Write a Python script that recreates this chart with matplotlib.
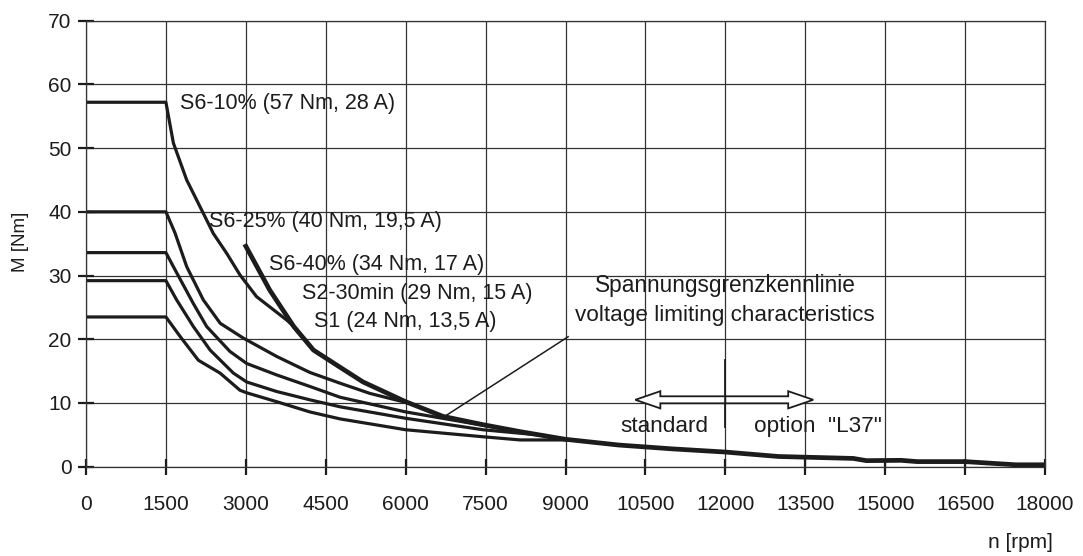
"""
Torque / speed characteristics of a spindle motor
(S1, S2, S6 duty curves and voltage limiting characteristic)
"""

import matplotlib
matplotlib.use("Agg")
import matplotlib.pyplot as plt
from matplotlib.patches import FancyArrow


# ----------------------------------------------------------
# Data (rpm, Nm)
# ----------------------------------------------------------

s6_10_rpm = [0, 1500, 1640, 1890, 2200, 2390, 2640, 2890, 3200, 3770, 3900]
s6_10_nm = [57.2, 57.2, 50.8, 45.0, 39.8, 36.6, 33.5, 30.1, 26.7, 23.0, 22.0]

s6_25_rpm = [0, 1500, 1670, 1890, 2200, 2520, 2950, 3580, 4200, 4770, 5330, 6000]
s6_25_nm = [40.0, 40.0, 36.7, 31.4, 26.2, 22.5, 20.2, 17.3, 14.8, 13.1, 11.5, 10.1]

s6_40_rpm = [0, 1500, 1640, 2015, 2265, 2700, 3015, 3580, 4200, 4770, 6000, 7450, 8150]
s6_40_nm = [33.6, 33.6, 31.4, 25.6, 22.0, 18.1, 16.2, 14.4, 12.6, 10.9, 8.6, 6.5, 5.5]

s2_rpm = [0, 1500, 1700, 2015, 2330, 2765, 3015, 3580, 4200, 4770, 6000, 7450, 8600]
s2_nm = [29.2, 29.2, 26.2, 22.0, 18.3, 14.7, 13.3, 11.8, 10.5, 9.4, 7.6, 5.8, 4.9]

s1_rpm = [0, 1500, 1770, 2110, 2515, 2890, 3015, 3580, 4200, 4770, 6000, 7450, 8150, 9000]
s1_nm = [23.5, 23.5, 20.4, 16.7, 14.7, 12.0, 11.6, 10.2, 8.6, 7.5, 5.8, 4.7, 4.2, 4.2]

volt_rpm = [3000, 3450, 3900, 4270, 4770, 5200, 6000, 6700, 7450, 8150, 9000,
            10000, 11000, 12000, 13000, 14400, 14650, 15300, 15600, 16500,
            17450, 18000]
volt_nm = [34.6, 27.7, 22.0, 18.3, 15.6, 13.3, 10.2, 7.9, 6.6, 5.5, 4.3,
           3.4, 2.8, 2.3, 1.6, 1.3, 0.95, 1.0, 0.8, 0.8, 0.3, 0.3]

x_ticks = list(range(0, 18001, 1500))
y_ticks = list(range(0, 71, 10))

labels = ["S6-10% (57 Nm, 28 A)", "S6-25% (40 Nm, 19,5 A)",
          "S6-40% (34 Nm, 17 A)", "S2-30min (29 Nm, 15 A)",
          "S1 (24 Nm, 13,5 A)"]
label_pos = [(1760, 57.0), (2300, 38.5), (3430, 31.7), (4060, 27.2), (4280, 22.8)]


# ----------------------------------------------------------
# Plotting
# ----------------------------------------------------------

plt.rcParams["font.family"] = ["Liberation Sans", "DejaVu Sans"]
ink = "#1c1c1c"

fig = plt.figure(figsize=(10.83, 5.56), dpi=100)
ax = fig.add_axes([86 / 1083, 1 - 466.7 / 556, 959 / 1083, 446 / 556])

ax.set_xlim(0, 18000)
ax.set_ylim(0, 70)
ax.set_xticks(x_ticks)
ax.set_yticks(y_ticks)
ax.grid(True, color="#333333", lw=0.9)
ax.set_axisbelow(True)
for sp in ax.spines.values():
    sp.set_color("#333333")
    sp.set_linewidth(0.9)

ax.tick_params(axis="both", direction="inout", length=11, width=1.6,
               color=ink, labelsize=15, labelcolor=ink)
ax.tick_params(axis="x", pad=15)
ax.tick_params(axis="y", pad=5)

for rpm, nm in [(s6_10_rpm, s6_10_nm), (s6_25_rpm, s6_25_nm),
                (s6_40_rpm, s6_40_nm), (s2_rpm, s2_nm), (s1_rpm, s1_nm)]:
    ax.plot(rpm, nm, color=ink, lw=2.3)
ax.plot(volt_rpm, volt_nm, color=ink, lw=3.4)

for txt, (x, y) in zip(labels, label_pos):
    ax.text(x, y, txt, fontsize=15.5, color=ink, ha="left", va="center")

# voltage limiting characteristic label with leader line
ax.text(12000, 28.5, "Spannungsgrenzkennlinie", fontsize=16.3, color=ink,
        ha="center", va="center")
ax.text(12000, 23.8, "voltage limiting characteristics", fontsize=16.2,
        color=ink, ha="center", va="center")
ax.plot([9050, 6770], [20.4, 8.1], color=ink, lw=1.1)

# standard / option "L37" split
ax.plot([12000, 12000], [6.3, 16.8], color=ink, lw=1.3)
for dx in (-1690, 1650):
    ax.add_patch(FancyArrow(12000, 10.5, dx, 0, width=1.1, head_width=2.7,
                            head_length=470, length_includes_head=True,
                            facecolor="white", edgecolor=ink, lw=1.3, zorder=4))
ax.text(10860, 6.3, "standard", fontsize=16.2, color=ink, ha="center", va="center")
ax.text(12530, 6.3, 'option  "L37"', fontsize=16.2, color=ink, ha="left", va="center")

ax.set_ylabel("M [Nm]", fontsize=13.5, color=ink)
ax.yaxis.set_label_coords(-0.068, 0.505)
ax.yaxis.label.set_va("center")
fig.text(1053 / 1083, 1 - 543 / 556, "n [rpm]", fontsize=15, color=ink,
         ha="right", va="center")

fig.savefig("out.png", dpi=100)
